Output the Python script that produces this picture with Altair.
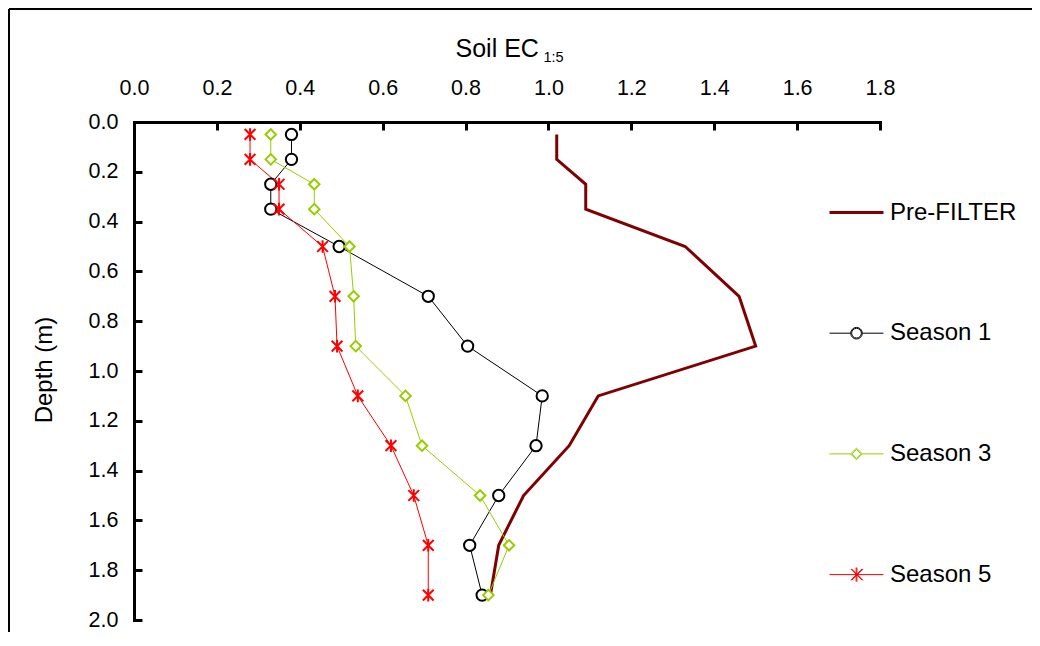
import altair as alt
import pandas as pd

# ---------------- data ----------------
series_names = ["Pre-FILTER", "Season 1", "Season 3", "Season 5"]
series_colors = ["#800000", "#000000", "#99CC00", "#FF0000"]
depths = [0.05, 0.15, 0.25, 0.35, 0.5, 0.7, 0.9, 1.1, 1.3, 1.5, 1.7, 1.9]
pre_filter = [1.02, 1.02, 1.09, 1.09, 1.33, 1.46, 1.50, 1.12, 1.05, 0.94, 0.88, 0.86]
season1 = [0.38, 0.38, 0.33, 0.33, 0.495, 0.71, 0.805, 0.985, 0.97, 0.88, 0.81, 0.84]
season3 = [0.33, 0.33, 0.435, 0.435, 0.52, 0.53, 0.535, 0.655, 0.695, 0.835, 0.905, 0.855]
season5 = [0.28, 0.28, 0.35, 0.35, 0.455, 0.485, 0.49, 0.54, 0.62, 0.675, 0.71, 0.71]
x_ticks = [0.0, 0.2, 0.4, 0.6, 0.8, 1.0, 1.2, 1.4, 1.6, 1.8]
y_ticks = [0.0, 0.2, 0.4, 0.6, 0.8, 1.0, 1.2, 1.4, 1.6, 1.8, 2.0]

rows = []
for name, vals in zip(series_names, [pre_filter, season1, season3, season5]):
    for d, v in zip(depths, vals):
        rows.append({"series": name, "depth": d, "ec": v})
df = pd.DataFrame(rows)

# ---------------- styling ----------------
FONT = "Liberation Sans"
W, H = 1023, 623
X0, X1 = 125, 871
Y0, Y1 = 113, 611

star_path = "M-0.85,-0.85L0.85,0.85M-0.85,0.85L0.85,-0.85M0,-1L0,1"
legend_paths = [
    "M-1,-0.037L1,-0.037M-1,0L1,0M-1,0.037L1,0.037",
    "M-1,0L-0.215,0M0.215,0L1,0"
    "M0.215,0A0.215,0.215 0 1,1 -0.215,0A0.215,0.215 0 1,1 0.215,0"
    "M0.18,0A0.18,0.18 0 1,1 -0.18,0A0.18,0.18 0 1,1 0.18,0",
    "M-1,0L-0.215,0M0.215,0L1,0"
    "M-0.215,0L0,-0.215L0.215,0L0,0.215Z"
    "M-0.165,0L0,-0.165L0.165,0L0,0.165Z",
    "M-1,0L1,0"
    "M-0.015,-0.26L-0.015,0.26M0.015,-0.26L0.015,0.26"
    "M-0.21,-0.21L0.21,0.21M-0.18,-0.21L0.24,0.21"
    "M-0.21,0.21L0.21,-0.21M-0.18,0.21L0.24,-0.21",
]

xscale = alt.Scale(domain=[0, 1.8], range=[X0, X1], nice=False, zero=False)
yscale = alt.Scale(domain=[0, 2.0], range=[Y0, Y1], nice=False, zero=False)
color_scale = alt.Scale(domain=series_names, range=series_colors)
shape_scale = alt.Scale(domain=series_names, range=legend_paths)

x_label_axis = alt.Axis(
    orient="top", offset=-Y0, values=x_ticks, format=".1f",
    ticks=False, tickSize=0, grid=False,
    domain=True, domainColor="black", domainWidth=3, domainCap="square",
    labelFont=FONT, labelFontSize=21.5, labelColor="black", labelPadding=28,
    labelBaseline="alphabetic", labelFlush=False, labelOverlap=False, labelBound=False,
    title="Soil EC", titleFont=FONT, titleFontSize=25, titleFontWeight="normal",
    titleColor="black", titleAlign="left", titleBaseline="alphabetic",
    titleX=446, titleY=-65.5, titleAngle=0,
)
y_label_axis = alt.Axis(
    orient="left", offset=-X0, values=y_ticks, format=".1f",
    ticks=False, tickSize=0, grid=False,
    domain=True, domainColor="black", domainWidth=3, domainCap="square",
    labelFont=FONT, labelFontSize=21.5, labelColor="black", labelPadding=16,
    labelAlign="right", labelBaseline="middle", labelFlush=False,
    labelOverlap=False, labelBound=False,
    title="Depth (m)", titleFont=FONT, titleFontSize=24, titleFontWeight="normal",
    titleColor="black", titleAngle=270, titleAlign="center",
    titleBaseline="alphabetic", titleX=-82.5, titleY=360.5,
)
x_tick_axis = alt.Axis(
    orient="bottom", offset=Y0 - H, values=x_ticks, labels=False, domain=False,
    ticks=True, tickSize=8, tickWidth=3, tickColor="black", grid=False,
    title="1:5", titleFont=FONT, titleFontSize=14.5, titleFontWeight="normal",
    titleColor="black", titleAlign="left", titleBaseline="alphabetic",
    titleX=534, titleY=-60.5, titleAngle=0,
)
y_tick_axis = alt.Axis(
    orient="right", offset=X0 - W, values=y_ticks, labels=False, domain=False,
    ticks=True, tickSize=8, tickWidth=3, tickColor="black", grid=False, title=None,
)

leg = alt.Legend(
    title=None, orient="none", legendX=820, legendY=176, padding=0,
    symbolSize=2916, symbolStrokeWidth=1, symbolOpacity=1,
    labelFont=FONT, labelFontSize=24, labelColor="black", labelOffset=6,
    labelBaseline="middle", rowPadding=80.7, labelLimit=300,
)

base = alt.Chart(df)


def xy(x_axis=None, y_axis=None):
    return dict(
        x=alt.X("ec:Q", scale=xscale, axis=x_axis),
        y=alt.Y("depth:Q", scale=yscale, axis=y_axis),
    )


pre_line = base.transform_filter(alt.datum.series == "Pre-FILTER").mark_line(
    strokeWidth=3, strokeJoin="miter", color=series_colors[0]
).encode(order=alt.Order("depth:Q"), **xy(x_label_axis, y_label_axis))

season_lines = [
    base.transform_filter(alt.datum.series == name).mark_line(
        strokeWidth=1, color=col
    ).encode(order=alt.Order("depth:Q"), **xy())
    for name, col in zip(series_names[1:], series_colors[1:])
]

s1_pts = base.transform_filter(alt.datum.series == "Season 1").mark_point(
    shape="circle", size=128, stroke="#000000", fill="white", strokeWidth=2, opacity=1
).encode(**xy(x_tick_axis, y_tick_axis))

s3_pts = base.transform_filter(alt.datum.series == "Season 3").mark_point(
    shape="diamond", size=110, stroke="#99CC00", fill="white", strokeWidth=2, opacity=1
).encode(**xy())

s5_pts = base.transform_filter(alt.datum.series == "Season 5").mark_point(
    shape=star_path, size=160, stroke="#FF0000", strokeWidth=2, opacity=1, filled=False
).encode(**xy())

# invisible layer that only drives the legend (line + marker keys)
legend_layer = base.mark_point(opacity=0, filled=False).encode(
    color=alt.Color("series:N", scale=color_scale, legend=leg),
    shape=alt.Shape("series:N", scale=shape_scale, legend=leg),
    **xy(),
)

chart = alt.layer(
    pre_line, *season_lines, s1_pts, s3_pts, s5_pts, legend_layer
).resolve_axis(
    x="independent", y="independent"
).properties(
    width=W, height=H, autosize="none",
    padding={"left": 1, "top": 1, "right": 0, "bottom": 0},
    background="white",
).configure_view(
    stroke="black", strokeWidth=2, strokeDash=[W + 1, W + H - 1, H, 0],
    strokeCap="butt", strokeJoin="miter",
)

chart.save("out.html", embed_options={"renderer": "svg", "actions": False})
